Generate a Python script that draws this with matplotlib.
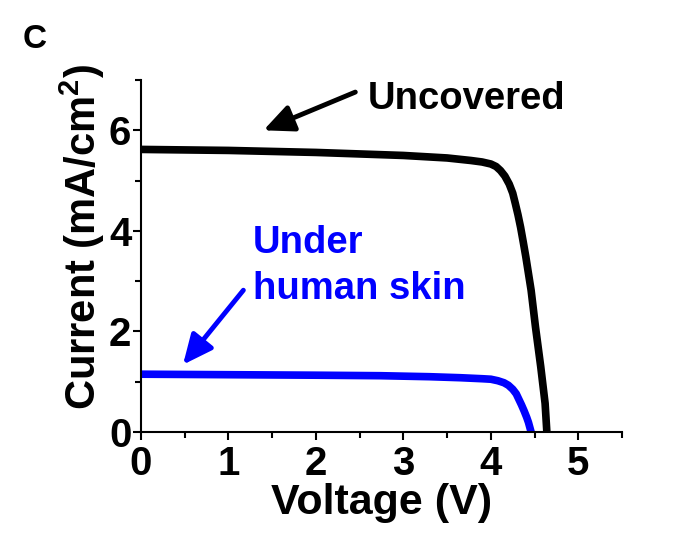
import matplotlib
matplotlib.use("Agg")
import matplotlib.pyplot as plt
from matplotlib.ticker import MultipleLocator

plt.rcParams['font.family'] = ['Liberation Sans', 'DejaVu Sans']
plt.rcParams['font.weight'] = 'bold'
plt.rcParams['mathtext.fontset'] = 'custom'
plt.rcParams['mathtext.rm'] = 'Liberation Sans:bold'
plt.rcParams['mathtext.bf'] = 'Liberation Sans:bold'
plt.rcParams['mathtext.default'] = 'bf'

# Data
v_uncovered = [0.0, 0.5, 1.0, 1.5, 2.0, 2.5, 3.0, 3.5, 3.77, 3.9, 4.0, 4.06,
               4.11, 4.16, 4.21, 4.25, 4.28, 4.31, 4.34, 4.37, 4.40, 4.43,
               4.46, 4.51, 4.57, 4.62, 4.64]
i_uncovered = [5.62, 5.61, 5.60, 5.58, 5.56, 5.53, 5.50, 5.45, 5.40, 5.37, 5.33,
               5.28, 5.20, 5.09, 4.93, 4.75, 4.54, 4.32, 4.07, 3.78, 3.48,
               3.15, 2.82, 2.09, 1.30, 0.57, 0.0]
v_skin = [0.0, 1.0, 2.0, 2.74, 3.3, 3.65, 3.9, 4.0, 4.08, 4.15, 4.20, 4.25,
          4.29, 4.32, 4.35, 4.38, 4.41, 4.43, 4.46]
i_skin = [1.15, 1.14, 1.13, 1.12, 1.10, 1.08, 1.06, 1.05, 1.02, 0.98, 0.93,
          0.85, 0.76, 0.65, 0.54, 0.42, 0.29, 0.19, 0.0]

xlabel = 'Voltage (V)'
ylabel = 'Current (mA/cm$^{2}$)'
label_uncovered = 'Uncovered'
label_skin_lines = ['Under', 'human skin']
panel = 'C'

blue = '#0000ff'

fig = plt.figure(figsize=(6.8, 5.5), dpi=100)
ax = fig.add_axes([0.2074, 0.2145, 0.7074, 0.64])

ax.plot(v_uncovered, i_uncovered, color='black', lw=5.5, solid_capstyle='butt',
        solid_joinstyle='round')
ax.plot(v_skin, i_skin, color=blue, lw=5.5, solid_capstyle='butt',
        solid_joinstyle='round')

ax.set_xlim(0, 5.5)
ax.set_ylim(0, 7)
ax.xaxis.set_major_locator(MultipleLocator(1))
ax.xaxis.set_minor_locator(MultipleLocator(0.5))
ax.yaxis.set_major_locator(MultipleLocator(2))
ax.yaxis.set_minor_locator(MultipleLocator(1))

for s in ['top', 'right']:
    ax.spines[s].set_visible(False)
for s in ['left', 'bottom']:
    ax.spines[s].set_linewidth(1.5)

ax.tick_params(which='major', length=6, width=1.5, direction='out', labelsize=29)
ax.tick_params(axis='x', which='major', pad=3)
ax.tick_params(axis='y', which='major', pad=1)
ax.tick_params(which='minor', length=4, width=1.5, direction='out')
for lab in ax.get_xticklabels() + ax.get_yticklabels():
    lab.set_fontweight('bold')

ax.set_xlabel(xlabel, fontsize=31, fontweight='bold', labelpad=0)
ax.set_ylabel(ylabel, fontsize=30, fontweight='bold')
ax.yaxis.set_label_coords(-0.07, 0.555)

arrow_style = '-|>,head_length=1.2,head_width=0.55'
ax.annotate('', xy=(1.40, 6.0), xytext=(2.45, 6.76),
            arrowprops=dict(arrowstyle=arrow_style, color='black', lw=3.5,
                            shrinkA=0, shrinkB=0, mutation_scale=15))
ax.text(2.59, 6.42, label_uncovered, fontsize=27.5, fontweight='bold',
        ha='left', va='baseline', color='black')

ax.annotate('', xy=(0.48, 1.34), xytext=(1.17, 2.82),
            arrowprops=dict(arrowstyle=arrow_style, color=blue, lw=3.5,
                            shrinkA=0, shrinkB=0, mutation_scale=15))
ax.text(1.28, 3.57, label_skin_lines[0], fontsize=27.5, fontweight='bold',
        ha='left', va='baseline', color=blue)
ax.text(1.28, 2.64, label_skin_lines[1], fontsize=27.5, fontweight='bold',
        ha='left', va='baseline', color=blue)

fig.text(23 / 680, 1 - 48 / 550, panel, fontsize=24, fontweight='bold',
         ha='left', va='baseline')

fig.savefig('out.png', dpi=100)
